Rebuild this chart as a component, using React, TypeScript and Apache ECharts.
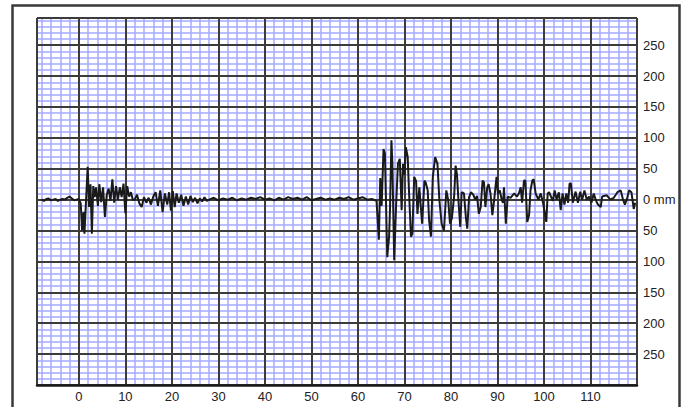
import { useEffect, useRef } from 'react';
import * as echarts from 'echarts';

// Seismograph trace: time (s) against ground displacement (mm)
const timeSec = [
  -8, -7.5, -7, -6.5, -6, -5.5, -5, -4.5, -4, -3.5, -3, -2.5, -2, -1.5, -1, -0.5, 0,
  0.4, 0.7, 1.0, 1.2, 1.5, 1.9, 2.2, 2.5, 2.8, 3.1, 3.4, 3.7, 4.1, 4.4, 4.8, 5.2, 5.6, 6.0,
  6.4, 6.8, 7.2, 7.6, 8.0, 8.4, 8.8, 9.2, 9.6, 10.0, 10.4, 10.8, 11.2, 11.6,
  12.0, 12.5, 13.0, 13.5, 14.0, 14.5, 15.0, 15.5, 16.0, 16.5, 17.0, 17.5, 18.0, 18.5, 19.0,
  19.4, 19.8, 20.2, 20.6, 21.0, 21.5, 22.0, 22.5, 23.0, 23.5, 24.0, 24.5, 25.0, 25.5, 26.0,
  26.5, 27.0, 27.5,
  28, 29, 30, 31, 32, 33, 34, 35, 36, 37, 38, 39, 40, 41, 42, 43, 44, 45, 46, 47, 48, 49,
  50, 51, 52, 53, 54, 55, 56, 57, 58, 59, 60, 61, 62, 63,
  64.0, 64.5, 64.8, 65.1, 65.5, 65.8, 66.3, 66.7, 66.9, 67.2, 67.4, 67.8, 68.2, 68.6, 69.0,
  69.4, 69.7, 70.0, 70.3, 70.7, 71.0, 71.4, 71.7, 72.1, 72.5, 72.8, 73.2, 73.8, 74.3, 74.6,
  75.0, 75.3, 75.7, 76.1, 76.6, 77.1, 77.5, 78.0, 78.5, 79.0, 79.4, 79.8, 80.2, 80.7, 81.0,
  81.3, 81.6, 82.0, 82.3, 82.8, 83.2, 83.5, 83.9, 84.3, 84.8, 85.2, 85.6, 86.0, 86.4, 86.8,
  87.1, 87.4, 87.8, 88.1, 88.5, 88.9, 89.3, 89.8, 90.1, 90.5, 90.9, 91.2, 91.4, 91.8, 92.2,
  92.8, 93.6, 94.2, 94.6, 95.0, 95.3, 95.7, 96.0, 96.4, 96.8, 97.1, 97.5, 97.8, 98.2, 98.8,
  99.3, 99.8, 100.5, 100.8, 101.1, 101.5, 101.9, 102.3, 102.7, 103.2, 103.6, 104.0, 104.4,
  104.8, 105.2, 105.5, 105.8, 106.2, 106.8, 107.3, 107.8, 108.2, 108.7, 109.2, 109.7, 110.2,
  110.7, 111.1, 111.6, 112.2, 112.5, 113.5, 114.3, 115.0, 115.8, 116.5, 117.0, 117.4, 117.9,
  118.3, 118.8, 119.3, 119.6,
];

const amplitudeMm = [
  0, -2, 1, 2, -1, 0, 1, -2, 0, 1, 0, 3, 5, 2, -1, 0, 1,
  -6, -50, -20, -55, -8, 53, -12, 25, -55, 22, 4, 20, -10, 25, -4, 20, -28, 8,
  18, -2, 33, -5, 22, 0, 20, 4, 26, -22, 22, 5, 12, 0,
  0, 8, -6, -12, 4, -5, 3, -8, 5, 12, -10, 15, -20, 10, -8,
  12, -18, 14, -12, 10, -5, 8, -10, 5, -8, 6, -4, 3, -6, 2,
  -3, 4, -2,
  0, 3, -1, 2, 0, 3, -1, 2, 0, 3, 1, 4, 0, 2, -1, 3, 0, 4, 1, 3, 0, 4,
  -1, 1, 3, 0, 2, 0, 3, 1, 4, 0, 2, 4, 0, 1,
  -2, -65, 35, -10, 82, 75, -93, -60, -15, 96, 60, -98, -10, 58, 66,
  -17, 58, 40, 85, 69, 10, -60, -55, 37, 30, -23, 20, -39, 31, 27,
  15, -33, -60, 37, 69, 58, 0, -39, -50, 15, 0, -39, -30, 7, 55,
  40, 0, -44, 12, 10, -28, -47, 4, 12, 8, 0, 6, -23, -12, 31,
  28, -12, 20, 25, 10, -25, 0, 37, 10, 15, 0, -5, 20, -39, 5,
  3, 10, 5, 10, 20, -5, 31, 31, -36, -25, 15, 31, 33, 10, 0,
  10, -5, -36, 10, 12, 5, -2, 15, 0, 12, -17, 10, -8,
  10, -5, 26, 26, -5, 13, -5, 13, 0, 15, 0, 5, -5,
  10, 0, -8, -12, 5, 7, 0, 3, 12, 15, 0, -8, 3,
  15, 12, -15, -5,
];

const timeRange = [-9, 120];
const ampRange = [-300, 294];
const timeLabelMax = 110;
const ampLabelMax = 250;

const labelFont = {
  fontFamily: '"Liberation Sans", Arial, sans-serif',
  fontSize: 13,
  color: '#222',
};

export default function App() {
  const ref = useRef<HTMLDivElement>(null);

  useEffect(() => {
    if (!ref.current) return;
    const chart = echarts.init(ref.current, null, { renderer: 'svg' });
    const points = timeSec.map((t, i) => [t, amplitudeMm[i]]);

    const minorLine = { show: true, lineStyle: { color: '#a4aaff', width: 1.5 } };
    const majorLine = { show: true, lineStyle: { color: '#3c3c3c', width: 2 } };
    const hidden = {
      axisLine: { show: false },
      axisTick: { show: false },
      axisLabel: { show: false },
    };

    chart.setOption({
      animation: false,
      backgroundColor: '#ffffff',
      grid: {
        left: 37,
        top: 18,
        width: 600,
        height: 367,
        containLabel: false,
        outerBoundsMode: 'none',
      },
      xAxis: [
        {
          type: 'value',
          min: timeRange[0],
          max: timeRange[1],
          splitNumber: 64,
          minInterval: 2,
          maxInterval: 2,
          ...hidden,
          splitLine: minorLine,
          z: 0,
        },
        {
          type: 'value',
          position: 'bottom',
          min: timeRange[0],
          max: timeRange[1],
          splitNumber: 13,
          minInterval: 10,
          maxInterval: 10,
          axisLine: { show: true, onZero: false, lineStyle: { color: '#1a1a1a', width: 2.5 } },
          axisTick: { show: false },
          axisLabel: {
            ...labelFont,
            margin: 5,
            formatter: (v: number) =>
              v >= 0 && v <= timeLabelMax && v % 10 === 0 ? String(v) : '',
          },
          splitLine: majorLine,
          z: 1,
        },
      ],
      yAxis: [
        {
          type: 'value',
          min: ampRange[0],
          max: ampRange[1],
          splitNumber: 59,
          minInterval: 10,
          maxInterval: 10,
          ...hidden,
          splitLine: minorLine,
          z: 0,
        },
        {
          type: 'value',
          position: 'right',
          min: ampRange[0],
          max: ampRange[1],
          splitNumber: 12,
          minInterval: 50,
          maxInterval: 50,
          axisLine: { show: false },
          axisTick: { show: false },
          axisLabel: {
            ...labelFont,
            margin: 6,
            formatter: (v: number) => {
              if (v % 50 !== 0 || Math.abs(v) > ampLabelMax) return '';
              return v === 0 ? '0 mm' : String(Math.abs(v));
            },
          },
          splitLine: majorLine,
          z: 1,
        },
      ],
      series: [
        {
          type: 'line',
          xAxisIndex: 1,
          yAxisIndex: 1,
          data: points,
          showSymbol: false,
          symbol: 'none',
          lineStyle: { color: '#1a1a1a', width: 2 },
          z: 3,
        },
      ],
      graphic: [
        {
          type: 'rect',
          shape: { x: 12.5, y: 5.5, width: 667, height: 420 },
          style: { fill: 'none', stroke: '#3a3a3a', lineWidth: 2.5 },
          z: 100,
          silent: true,
        },
      ],
    });

    return () => chart.dispose();
  }, []);

  return (
    <div
      ref={ref}
      style={{ position: 'fixed', left: 0, top: 0, width: 689, height: 407, background: '#fff' }}
    />
  );
}
